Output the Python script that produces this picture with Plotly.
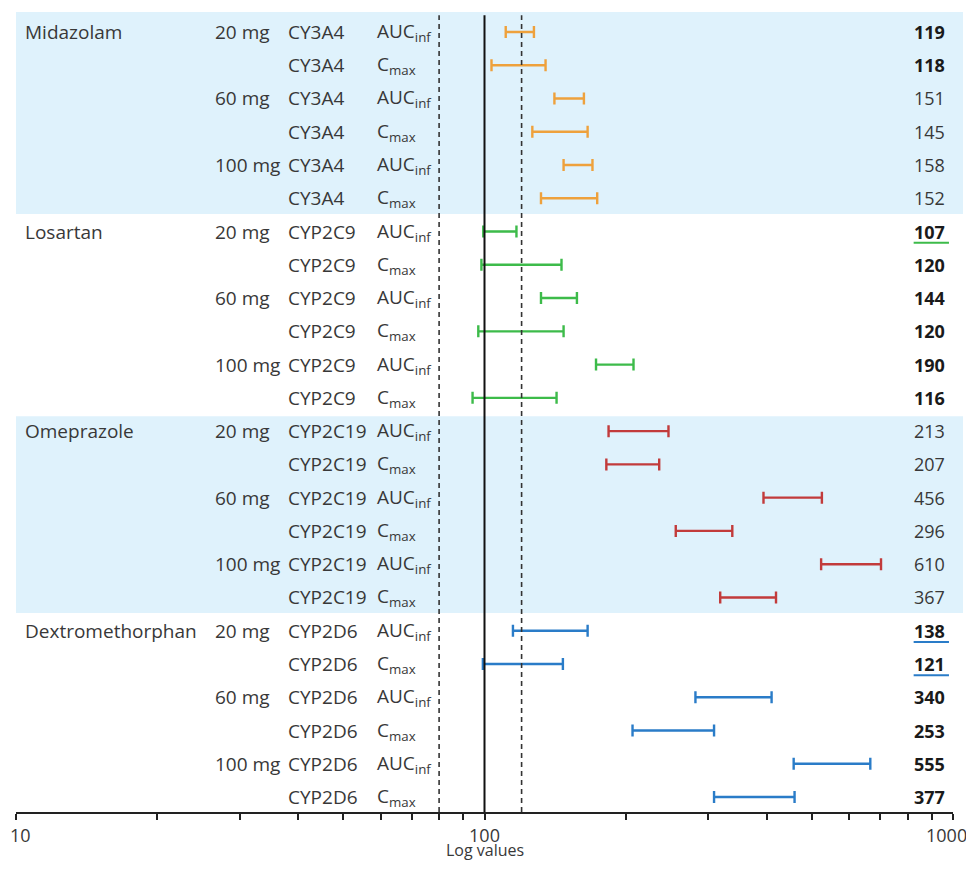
import plotly.graph_objects as go

# ---------------- data ----------------
drugs = ["Midazolam", "Losartan", "Omeprazole", "Dextromethorphan"]
enzymes = ["CY3A4", "CYP2C9", "CYP2C19", "CYP2D6"]
doses = ["20 mg", "60 mg", "100 mg"]
params = ["AUC<sub>inf</sub>", "C<sub>max</sub>"]

midazolam_est = [119, 118, 151, 145, 158, 152]
midazolam_lo = [111, 103.5, 141, 126.5, 147.5, 132]
midazolam_hi = [127.5, 135, 163, 166, 170, 174]

losartan_est = [107, 120, 144, 120, 190, 116]
losartan_lo = [99.4, 98.5, 132, 97, 173, 94.3]
losartan_hi = [117, 146, 157.5, 147.5, 208, 142.5]

omeprazole_est = [213, 207, 456, 296, 610, 367]
omeprazole_lo = [184, 182, 394, 256, 523, 318.5]
omeprazole_hi = [247, 236, 525, 338, 702, 419]

dextro_est = [138, 121, 340, 253, 555, 377]
dextro_lo = [115, 99.2, 282, 207, 457, 309]
dextro_hi = [166, 147, 410, 309, 666, 459]

bold_values = [True, True, False, False, False, False,
               True, True, True, True, True, True,
               False, False, False, False, False, False,
               True, True, True, True, True, True]
underlined = {6: "#3dbb4a", 18: "#2a7cc8", 19: "#2a7cc8"}

lines_ref = [80, 100, 120]
tick_vals = [10, 20, 30, 40, 50, 60, 70, 80, 90,
             100, 200, 300, 400, 500, 600, 700, 800, 900, 1000]
tick_text = ["", "", "", "", "", "", "", "", "",
             "100", "", "", "", "", "", "", "", "", ""]
edge_labels = ["10", "1000"]
axis_title = "Log values"

colors = ["#eea13c", "#3dbb4a", "#c23b3b", "#2a7cc8"]
ests = [midazolam_est, losartan_est, omeprazole_est, dextro_est]
los = [midazolam_lo, losartan_lo, omeprazole_lo, dextro_lo]
his = [midazolam_hi, losartan_hi, omeprazole_hi, dextro_hi]

FONT = "Open Sans"
TXT = "#383838"
LBL = 19
fig = go.Figure()

for g in range(4):
    ys = [g * 6 + k for k in range(6)]
    fig.add_trace(go.Scatter(
        x=ests[g], y=ys, mode="markers",
        marker=dict(size=1, color="rgba(0,0,0,0)"),
        error_x=dict(type="data", symmetric=False,
                     array=[h - e for h, e in zip(his[g], ests[g])],
                     arrayminus=[e - l for e, l in zip(ests[g], los[g])],
                     color=colors[g], thickness=2.4, width=6),
        showlegend=False, hoverinfo="skip"))

shapes = []
# background bands
for (y0, y1) in [(-0.6, 5.47), (11.55, 17.47)]:
    shapes.append(dict(type="rect", xref="paper", yref="y", x0=0, x1=1.0107,
                       y0=y0, y1=y1, fillcolor="#dff2fc", line=dict(width=0),
                       layer="below"))
# reference lines
for v in lines_ref:
    solid = (v == 100)
    shapes.append(dict(type="line", xref="x", yref="paper", x0=v, x1=v,
                       y0=0, y1=0.996,
                       line=dict(color="#111111" if solid else "#333333",
                                 width=2 if solid else 1.6,
                                 dash="solid" if solid else "5px,4px")))

annotations = []
def label(x, y, text, size=LBL, color=TXT, anchor="left"):
    annotations.append(dict(x=x, y=y, xref="paper", yref="y", text=text,
                            showarrow=False, xanchor=anchor, yanchor="middle",
                            font=dict(size=size, color=color, family=FONT)))

for g in range(4):
    for d in range(3):
        for p in range(2):
            i = g * 6 + d * 2 + p
            if d == 0 and p == 0:
                label(0.0075, i, drugs[g])
            if p == 0:
                label(0.210, i, doses[d])
            label(0.288, i, enzymes[g])
            label(0.383, i, params[p])
            val = str(ests[g][d * 2 + p])
            if bold_values[i]:
                val = "<b>" + val + "</b>"
            label(0.9936, i, val, size=18,
                  color="#1a1a1a" if bold_values[i] else TXT, anchor="right")
            if i in underlined:
                shapes.append(dict(type="line", xref="paper", yref="y",
                                   x0=0.958, x1=0.9957, y0=i + 0.34, y1=i + 0.34,
                                   line=dict(color=underlined[i], width=2)))

# edge tick labels (kept inside the page) and axis title
annotations.append(dict(x=-0.009, y=-0.029, xref="paper", yref="paper",
                        text=edge_labels[0], showarrow=False, xanchor="left",
                        yanchor="middle", font=dict(size=18, color=TXT, family=FONT)))
annotations.append(dict(x=1.017, y=-0.029, xref="paper", yref="paper",
                        text=edge_labels[1], showarrow=False, xanchor="right",
                        yanchor="middle", font=dict(size=18, color=TXT, family=FONT)))
annotations.append(dict(x=0.5, y=-0.048, xref="paper", yref="paper",
                        text=axis_title, showarrow=False, xanchor="center",
                        yanchor="middle", font=dict(size=16, color=TXT, family=FONT)))

# page body has an 8px default margin, so the figure is offset by (8, 8)
fig.update_layout(
    width=966, height=854,
    margin=dict(l=8, r=21, t=4, b=50, autoexpand=False),
    paper_bgcolor="white", plot_bgcolor="white",
    shapes=shapes, annotations=annotations,
    font=dict(family=FONT, size=18, color=TXT),
    xaxis=dict(type="log", range=[1, 3], tickvals=tick_vals, ticktext=tick_text,
               ticks="outside", ticklen=6, tickwidth=1.5, tickcolor="#222",
               showline=True, linecolor="#222", linewidth=2,
               showgrid=False, zeroline=False, automargin=False,
               tickfont=dict(size=18, color=TXT, family=FONT)),
    yaxis=dict(range=[23.45, -0.6], visible=False, showgrid=False, zeroline=False),
)

fig.write_html("out.html")
